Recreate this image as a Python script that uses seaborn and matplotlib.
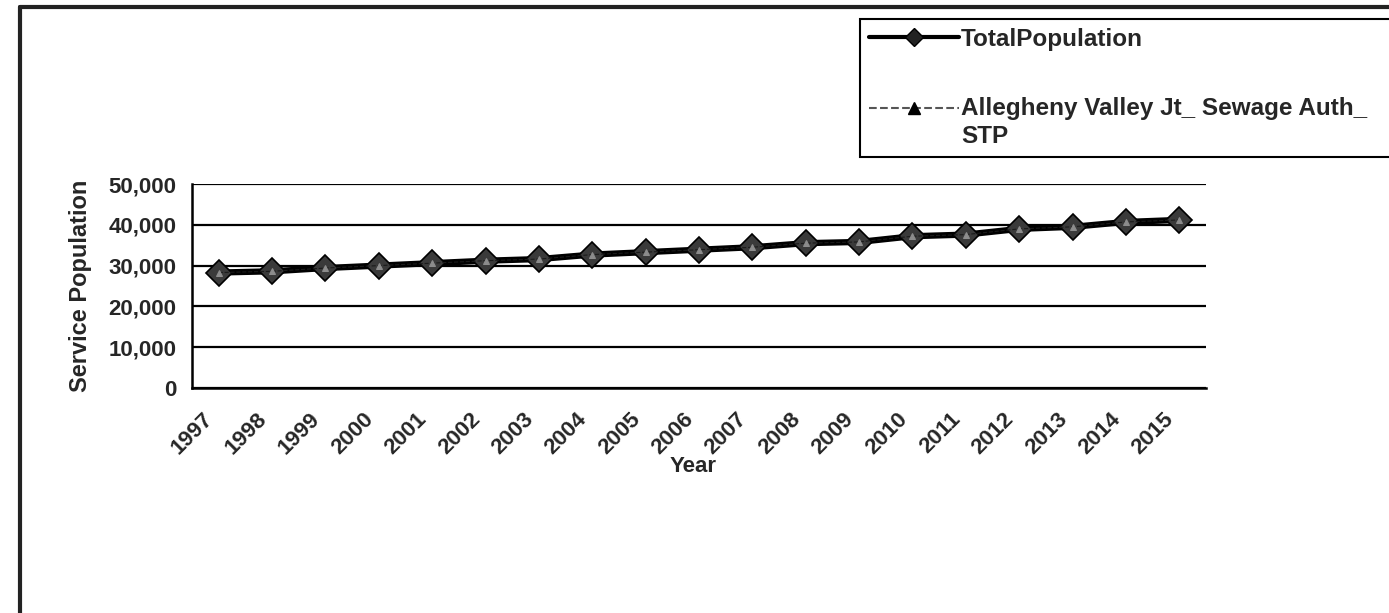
import numpy as np
import pandas as pd
import seaborn as sns
import matplotlib.pyplot as plt
from matplotlib.lines import Line2D
from matplotlib.legend_handler import HandlerLine2D

years = ['1997', '1998', '1999', '2000', '2001', '2002', '2003', '2004', '2005', '2006',
         '2007', '2008', '2009', '2010', '2011', '2012', '2013', '2014', '2015']
total_pop = [28300, 28600, 29400, 30000, 30600, 31200, 31600, 32700, 33300, 33900,
             34500, 35500, 35800, 37200, 37600, 39000, 39500, 40700, 41200]
allegheny = [28300, 28600, 29400, 30000, 30600, 31200, 31600, 32700, 33300, 33900,
             34500, 35500, 35800, 37200, 37600, 39000, 39500, 40700, 41200]
y_ticks = [0, 10000, 20000, 30000, 40000, 50000]

df = pd.DataFrame({'pos': np.arange(len(years)), 'year': years,
                   'total': total_pop, 'alleg': allegheny})


class ShiftedHandler(HandlerLine2D):
    # moves the legend handle up so it sits on the first line of a 2-line label
    def __init__(self, dy, **kw):
        super().__init__(**kw)
        self.dy = dy

    def create_artists(self, legend, orig_handle, xdescent, ydescent, width, height,
                       fontsize, trans):
        arts = super().create_artists(legend, orig_handle, xdescent, ydescent, width,
                                      height, fontsize, trans)
        for a in arts:
            a.set_ydata(np.asarray(a.get_ydata(), float) + self.dy)
        return arts


sns.set_style('white')
plt.rcParams['font.family'] = ['Liberation Sans', 'DejaVu Sans']
plt.rcParams['font.weight'] = 'bold'

fig = plt.figure(figsize=(13.89, 6.13), dpi=100)
ax = fig.add_axes([192 / 1389, 1 - 388 / 613, (1206 - 192) / 1389, (388 - 184) / 613])

sns.lineplot(data=df, x='pos', y='total', ax=ax, color='black', lw=4.5,
             marker='D', markersize=13, markerfacecolor='#3a3a3a',
             markeredgecolor='black', markeredgewidth=1.2, zorder=3)
sns.lineplot(data=df, x='pos', y='alleg', ax=ax, color='#1a1a1a', lw=0.8,
             linestyle='--', marker='^', markersize=5, markerfacecolor='#8c8c8c',
             markeredgecolor='#8c8c8c', zorder=4)

ax.set_xlim(-0.5, len(years) - 0.5)
ax.set_ylim(0, 50000)
ax.set_yticks(y_ticks)
ax.set_yticklabels([f'{v:,}' for v in y_ticks], fontsize=16, fontweight='bold')
ax.grid(axis='y', color='black', lw=1.6)
ax.set_axisbelow(True)

# category boundaries get the tick marks; the labels hang just left of each centre
ax.set_xticks(np.arange(-0.5, len(years), 1.0))
ax.set_xticklabels([])
ax.set_xticks(np.arange(len(years)) - 0.3, minor=True)
ax.set_xticklabels(years, minor=True, rotation=45, ha='right', va='top',
                   rotation_mode='anchor', fontsize=16, fontweight='bold')
ax.tick_params(axis='x', which='major', direction='out', length=7, width=1.5, color='black')
ax.tick_params(axis='x', which='minor', length=0, pad=15)
ax.tick_params(axis='y', direction='inout', length=14, width=1.5, color='black', pad=4)

for side in ['top', 'right']:
    ax.spines[side].set_visible(False)
for side in ['left', 'bottom']:
    ax.spines[side].set_color('black')
    ax.spines[side].set_linewidth(1.8)

ax.set_xlabel('Year', fontsize=16, fontweight='bold', va='center')
ax.xaxis.set_label_coords((693 - 192) / 1014, -(467 - 388) / 204)
ax.set_ylabel('Service Population', fontsize=17, fontweight='bold', labelpad=12)

h_total = Line2D([], [], color='black', lw=3, marker='D', markersize=9,
                 markerfacecolor='#222222', markeredgecolor='black')
h_alleg = Line2D([], [], color='#555555', lw=1.5, linestyle='--', marker='^', markersize=9,
                 markerfacecolor='black', markeredgecolor='black')
labels = ['TotalPopulation', 'Allegheny Valley Jt_ Sewage Auth_\nSTP']
leg = fig.legend([h_total, h_alleg], labels, loc='upper left', mode='expand',
                 bbox_to_anchor=(860 / 1389, 1 - 19 / 613, 600 / 1389, 0),
                 handler_map={h_alleg: ShiftedHandler(11)},
                 prop={'size': 17.5, 'weight': 'bold'}, frameon=True, fancybox=False,
                 edgecolor='black', framealpha=1, handlelength=3.7,
                 handletextpad=0.1, borderpad=0.36, labelspacing=1.9, borderaxespad=0)
leg.get_frame().set_linewidth(1.5)
leg.get_texts()[1].set_linespacing(1.3)

# outer chart-area border (runs off the right and bottom edges)
fig.add_artist(Line2D([20 / 1389, 20 / 1389], [0, 1 - 7 / 613], color='#222222',
                      lw=3, transform=fig.transFigure))
fig.add_artist(Line2D([20 / 1389, 1], [1 - 7 / 613, 1 - 7 / 613], color='#222222',
                      lw=3, transform=fig.transFigure))

fig.savefig('out.png', dpi=100, facecolor='white')
